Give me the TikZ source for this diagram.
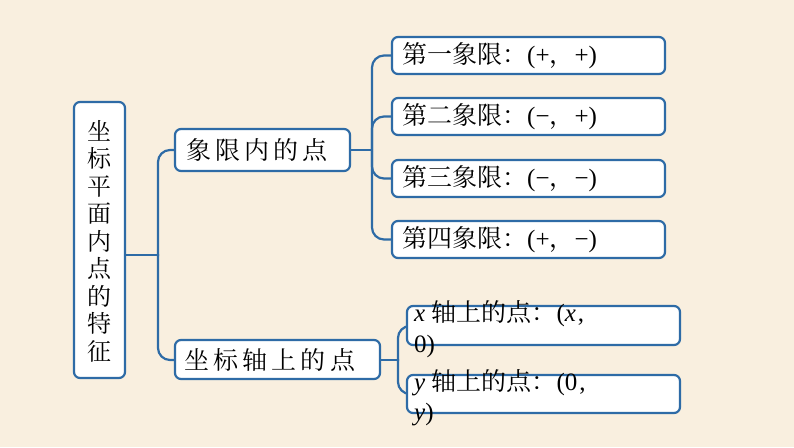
\documentclass[tikz,border=0pt]{standalone}
\usepackage{fontspec}
\newfontfamily\cjk{Noto Serif CJK SC}
\setmainfont{Liberation Serif}
\begin{document}
\begin{tikzpicture}[x=1pt,y=-1pt,
  bx/.style={draw=bl,line width=2.2pt,rounded corners=6pt,fill=white,inner sep=0pt},
  br/.style={draw=bl,line width=2.2pt,rounded corners=12pt},
  tx/.style={font=\fontsize{25}{27}\selectfont,anchor=west,inner sep=0pt}]
\definecolor{bl}{HTML}{2E6BA6}
\definecolor{bg}{HTML}{F9EFDF}
\fill[bg] (0,0) rectangle (794,447);
\useasboundingbox (0,0) rectangle (794,447);
% braces
\draw[bl,line width=2.2pt] (125,255) -- (158,255);
\draw[br] (175,150) -| (158,256);
\draw[br] (175,360) -| (158,254);
\draw[bl,line width=2.2pt] (350,150) -- (372,150);
\draw[br] (392,55.5) -| (372,151);
\draw[br] (392,239.5) -| (372,149);
\draw[br] (392,116.5) -| (372,149);
\draw[br] (392,178.5) -| (372,151);
\draw[bl,line width=2.2pt] (380,360) -- (398,360);
\draw[br] (407,326) -| (398,361);
\draw[br] (407,394) -| (398,359);
% boxes
\path[bx] (74,102) rectangle (125,378);
\path[bx] (175,129) rectangle (350,171);
\path[bx] (175,340) rectangle (380,379);
\foreach \y in {37,98,160,221}{\path[bx] (392,\y) rectangle (665,\y+37);}
\path[bx] (407,306) rectangle (680,345);
\path[bx] (407,375) rectangle (680,413);
% texts
\node[font=\cjk\fontsize{24}{27.5}\selectfont,align=center] (mt) at (99.5,241) {坐\\标\\平\\面\\内\\点\\的\\特\\征};
\node[tx] (t0) at (186,150) {\cjk 象\,限\,内\,的\,点};
\node[tx] (t5) at (184,360) {\cjk 坐\,标\,轴\,上\,的\,点};
\node[tx] (t1) at (402,55.5) {{\cjk 第一象限：}(+{\cjk ，}+)};
\node[tx] (t2) at (402,116.5) {{\cjk 第二象限：}(−{\cjk ，}+)};
\node[tx] (t3) at (402,178.5) {{\cjk 第三象限：}(−{\cjk ，}−)};
\node[tx] (t4) at (402,239.5) {{\cjk 第四象限：}(+{\cjk ，}−)};
\node[tx] (t6) at (414,314) {\textit{x} {\cjk 轴上的点：}(\textit{x}\hspace{2pt},};
\node[tx] (t7) at (414,346) {0)};
\node[tx] (t8) at (414,383) {\textit{y} {\cjk 轴上的点：}(0\hspace{2pt},};
\node[tx] (t9) at (414,415) {\textit{y})};
\end{tikzpicture}
\end{document}
